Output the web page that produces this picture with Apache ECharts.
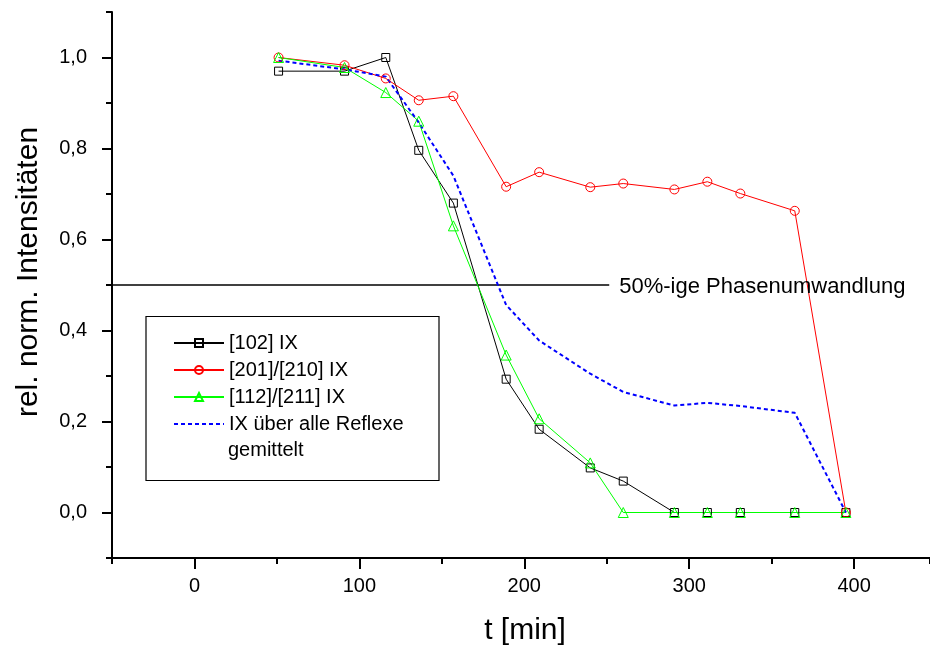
<!DOCTYPE html>
<html>
<head>
<meta charset="utf-8">
<script src="https://cdn.jsdelivr.net/npm/echarts@6/dist/echarts.min.js"></script>
<style>html,body{margin:0;padding:0;background:#fff}#c{width:930px;height:648px}</style>
</head>
<body>
<div id="c"></div>
<script>
// ---- data ----
var time = [51, 91, 116, 136, 157, 189, 209, 240, 260, 291, 311, 331, 364, 395];
var s102 = [0.97, 0.97, 1.0, 0.796, 0.68, 0.293, 0.183, 0.098, 0.069, 0, 0, 0, 0, 0];
var s201 = [1.0, 0.983, 0.954, 0.906, 0.915, 0.716, 0.748, 0.715, 0.723, 0.710, 0.727, 0.701, 0.663, 0];
var s112 = [1.0, 0.978, 0.923, 0.860, 0.63, 0.346, 0.206, 0.109, 0, 0, 0, 0, 0, 0];
var sAvg = [0.993, 0.974, 0.958, 0.857, 0.740, 0.456, 0.378, 0.305, 0.265, 0.235, 0.241, 0.234, 0.219, 0];
var seriesNames = ['[102] IX', '[201]/[210] IX', '[112]/[211] IX', 'IX über alle Reflexe'];
var legendExtra = 'gemittelt';
var thresholdValue = 0.5;
var thresholdStart = -50;
var thresholdEnd = 251.5;
var thresholdLabel = '50%-ige Phasenumwandlung';
var xTitle = 't [min]';
var yTitle = 'rel. norm. Intensitäten';
var xMin = -50, xMax = 446, yMin = -0.1, yMax = 1.1;

var FONT = '"Liberation Sans", Arial, sans-serif';
function pairs(arr){ return time.map(function(t,i){ return [t, arr[i]]; }); }

var chart = echarts.init(document.getElementById('c'), null, {renderer:'canvas'});
var black = '#000';
function markerSeries(name, data, color, symbol, size){
  return {
    name: name, type: 'line', xAxisIndex: 0, yAxisIndex: 0,
    data: pairs(data), symbol: symbol, symbolSize: size,
    lineStyle: {color: color, width: 1},
    itemStyle: {color: 'rgba(255,255,255,0)', borderColor: color, borderWidth: 1},
    emphasis: {disabled: true}
  };
}
var option = {
  animation: false,
  backgroundColor: '#fff',
  textStyle: {fontFamily: FONT},
  grid: [
    {left: 112, right: 0, top: 12, bottom: 90},
    {left: 194.46, right: 75.9, top: 12, bottom: 90},
    {left: 112, right: 0, top: 57.5, bottom: 135.5}
  ],
  xAxis: [
    {gridIndex: 0, type: 'value', min: xMin, max: xMax, interval: 50,
     axisLine: {show: true, onZero: false, lineStyle: {color: black, width: 2}},
     axisTick: {show: true, length: 6, lineStyle: {color: black, width: 2}},
     axisLabel: {show: false}, splitLine: {show: false}},
    {gridIndex: 1, type: 'value', min: 0, max: 400, interval: 100,
     axisLine: {show: false, onZero: false},
     axisTick: {show: true, length: 11, lineStyle: {color: black, width: 2}},
     axisLabel: {show: true, margin: 18, color: black, fontSize: 20, fontFamily: FONT},
     splitLine: {show: false}},
    {gridIndex: 2, type: 'value', min: 0, max: 1, show: false}
  ],
  yAxis: [
    {gridIndex: 0, type: 'value', min: yMin, max: yMax, interval: 0.1,
     axisLine: {show: true, onZero: false, lineStyle: {color: black, width: 2}},
     axisTick: {show: true, length: 6, lineStyle: {color: black, width: 2}},
     axisLabel: {show: false}, splitLine: {show: false}},
    {gridIndex: 1, type: 'value', min: 0, max: 1, show: false},
    {gridIndex: 2, type: 'value', min: 0, max: 1.0, interval: 0.2,
     axisLine: {show: false, onZero: false},
     axisTick: {show: true, length: 10, lineStyle: {color: black, width: 2}},
     axisLabel: {show: true, margin: 25, color: black, fontSize: 20, fontFamily: FONT,
       formatter: function(v){ return v.toFixed(1).replace('.', ','); }},
     splitLine: {show: false}}
  ],
  legend: {
    show: true, orient: 'vertical', left: 173, top: 333,
    data: [
      {name: seriesNames[0]},
      {name: seriesNames[1]},
      {name: seriesNames[2]},
      {name: seriesNames[3], itemStyle: {color: 'rgba(0,0,0,0)', borderColor: 'rgba(0,0,0,0)', borderWidth: 0}}
    ],
    itemWidth: 50, itemHeight: 10, itemGap: 7, padding: 0,
    textStyle: {fontSize: 20, lineHeight: 20, color: black, fontFamily: FONT},
    selectedMode: false
  },
  series: [
    {name: 'threshold', type: 'line', xAxisIndex: 0, yAxisIndex: 0,
     data: [[thresholdStart, thresholdValue], [thresholdEnd, thresholdValue]],
     symbol: 'none', lineStyle: {color: black, width: 1.5}, silent: true,
     endLabel: {show: true, formatter: thresholdLabel, distance: 10, offset: [0, 2], color: black, fontSize: 22, fontFamily: FONT}},
    markerSeries(seriesNames[0], s102, '#000000', 'rect', 8),
    markerSeries(seriesNames[1], s201, '#ff0000', 'circle', 9),
    markerSeries(seriesNames[2], s112, '#00ff00', 'triangle', 10),
    {name: seriesNames[3], type: 'line', xAxisIndex: 0, yAxisIndex: 0,
     data: pairs(sAvg), symbol: 'none',
     lineStyle: {color: '#0000ff', width: 2, type: [4, 3]},
     itemStyle: {color: '#0000ff'}}
  ],
  graphic: [
    {type: 'rect', left: 143.5, top: 314, shape: {width: 293, height: 164},
     style: {fill: 'none', stroke: black, lineWidth: 1.2}, z: 0},
    {type: 'text', left: 228, top: 440, style: {text: legendExtra, fontSize: 20, fill: black, font: '20px ' + FONT}},
    {type: 'text', x: 29, y: 272, rotation: Math.PI / 2,
     style: {text: yTitle, font: '30px ' + FONT, fill: black, textAlign: 'center', textVerticalAlign: 'middle'}},
    {type: 'text', x: 525, y: 631,
     style: {text: xTitle, font: '30px ' + FONT, fill: black, textAlign: 'center', textVerticalAlign: 'middle'}}
  ]
};
chart.setOption(option);
</script>
</body>
</html>
